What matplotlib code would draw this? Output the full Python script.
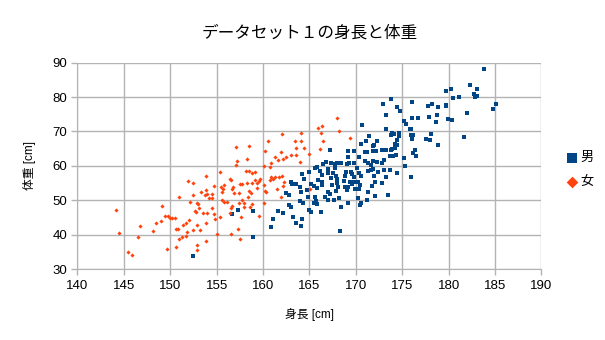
import matplotlib
matplotlib.use('Agg')
import matplotlib.pyplot as plt

plt.rcParams['font.family'] = ['Liberation Sans', 'Noto Sans CJK JP']

# 女 (height cm, weight kg)
female_pts = [
    (144.2, 47.3), (144.5, 40.5), (145.5, 34.9), (145.9, 34.1), (146.5, 39.4), (146.7, 42.5),
    (148.1, 41.1), (148.5, 43.4), (149.0, 44.0), (149.1, 48.3), (149.4, 45.4), (149.8, 45.4),
    (150.0, 45.0), (150.2, 44.8), (150.5, 45.0), (149.7, 35.9), (150.6, 36.5), (150.9, 50.9),
    (150.6, 41.6), (150.8, 41.6), (150.9, 38.8), (151.3, 39.4), (151.4, 42.8), (151.7, 43.4),
    (151.7, 39.7), (151.8, 40.8), (151.9, 55.6), (152.0, 44.4), (152.1, 49.5), (152.5, 55.1),
    (152.5, 51.5), (152.9, 49.3), (153.0, 49.0), (152.7, 46.9), (152.8, 46.6), (152.9, 42.8),
    (152.9, 37.0), (152.9, 35.5), (153.1, 47.7), (153.2, 41.3), (152.4, 41.4), (153.3, 52.5),
    (153.7, 51.6), (154.0, 51.8), (153.8, 57.0), (153.5, 46.4), (153.8, 52.9), (153.8, 43.5),
    (154.0, 46.3), (153.8, 38.1), (154.2, 50.8),
    (155.4, 58.2), (154.7, 54.1), (155.5, 54.0), (155.7, 53.4), (155.8, 54.5), (155.6, 52.3),
    (155.6, 50.1), (155.8, 49.6), (156.1, 49.6), (154.5, 47.7), (154.7, 46.1), (154.8, 44.6),
    (155.4, 45.1), (155.0, 40.2), (154.5, 51.9), (154.5, 50.8),
    (157.1, 65.6), (158.5, 65.9), (158.3, 61.9), (157.2, 61.5), (157.1, 60.2), (156.4, 56.3),
    (156.6, 55.9), (156.7, 53.3), (156.9, 52.1), (156.7, 48.4), (157.4, 52.2), (157.7, 54.7),
    (157.4, 49.2), (157.7, 50.1), (157.9, 49.3), (158.2, 58.4), (158.5, 58.5), (158.8, 57.9),
    (159.1, 58.2), (158.3, 55.1), (158.8, 55.1), (158.5, 52.8), (158.7, 52.1), (158.4, 50.9),
    (159.1, 55.9), (159.3, 55.0), (159.6, 55.5), (159.7, 56.1), (159.4, 53.5), (159.6, 45.5),
    (156.6, 47.8), (156.4, 46.3), (157.3, 41.6), (156.6, 40.3), (157.5, 38.9), (157.6, 45.2),
    (158.0, 48.2), (158.6, 48.2), (158.8, 49.0), (156.8, 54.0), (157.5, 54.8),
    (166.4, 71.5), (165.9, 71.0), (166.2, 69.7), (168.2, 70.1), (164.1, 69.5), (162.0, 69.3),
    (160.5, 67.3), (163.4, 67.3), (164.1, 67.2), (160.2, 64.4), (161.9, 64.1), (163.6, 65.1),
    (165.0, 63.4), (166.1, 64.9), (164.4, 65.3), (161.3, 62.7), (161.6, 61.7), (162.1, 62.1),
    (162.5, 62.7), (163.0, 63.1), (163.6, 63.1), (164.0, 61.1), (160.9, 60.8), (160.7, 59.6),
    (160.1, 60.1), (161.3, 56.9), (161.7, 56.8), (162.0, 57.2), (160.9, 56.7), (161.1, 56.1),
    (160.7, 55.9), (160.1, 54.4), (160.2, 52.7), (160.3, 52.4), (162.3, 55.2), (162.2, 54.1),
    (161.5, 53.3), (161.9, 50.9), (160.1, 49.2),
    (168.0, 74.0), (169.4, 68.2), (166.5, 67.1), (165.1, 53.3),
]

# 男
male_pts = [
    (152.4, 33.8), (156.7, 46.1), (157.3, 47.1), (158.9, 46.8), (158.9, 39.3), (160.9, 42.3),
    (161.1, 44.5), (161.6, 46.9), (162.1, 46.3), (162.5, 52.2), (162.8, 51.5), (162.8, 48.7),
    (163.0, 48.1), (163.0, 55.2), (163.1, 54.7), (163.5, 54.7), (163.2, 45.3), (163.6, 43.5),
    (164.0, 53.9), (164.1, 52.3), (164.2, 57.7), (164.4, 56.2), (164.7, 53.0), (164.8, 50.9),
    (164.9, 58.3), (164.0, 49.8), (164.3, 49.2), (164.9, 47.1), (165.2, 46.6), (165.2, 54.8),
    (165.5, 54.1), (165.8, 53.7), (165.6, 50.9), (165.7, 49.8), (165.5, 49.3), (165.8, 48.9),
    (165.8, 59.8), (165.6, 59.3), (165.9, 56.0), (164.1, 42.5), (164.2, 44.5), (166.2, 46.5),
    (170.7, 71.9), (171.4, 68.7), (171.1, 67.1), (170.6, 66.3), (169.1, 64.2), (169.8, 64.4),
    (170.3, 62.7), (171.0, 64.0), (171.2, 64.1), (171.0, 61.3), (171.3, 60.8), (167.2, 64.5),
    (167.3, 60.8), (167.7, 60.6), (168.0, 60.8), (168.4, 60.9), (169.0, 60.7), (169.3, 60.9),
    (169.8, 60.9), (166.5, 60.6), (166.8, 61.0), (169.1, 62.5), (170.1, 59.3), (169.5, 58.3),
    (169.6, 57.7), (169.8, 56.9), (170.3, 57.9), (170.6, 57.1), (168.9, 58.1), (168.8, 57.2),
    (167.8, 59.5), (167.9, 57.1), (168.0, 56.2), (167.0, 59.2), (167.0, 57.9), (167.3, 56.4),
    (167.5, 57.9), (166.1, 58.4), (166.3, 57.3), (171.3, 58.4), (171.3, 52.4), (170.2, 55.4),
    (170.4, 54.4), (170.3, 53.2), (169.9, 53.2), (169.8, 55.2), (169.6, 54.8), (169.4, 55.2),
    (168.7, 55.5), (168.8, 54.0), (169.1, 54.0), (169.0, 53.0), (168.0, 54.9), (168.1, 54.0),
    (167.9, 52.7), (167.4, 54.6), (167.0, 52.5), (167.2, 51.9), (166.4, 55.4), (166.3, 54.4),
    (170.2, 50.7), (170.5, 49.3), (169.2, 49.3), (168.4, 48.0), (170.4, 48.6), (171.2, 50.1),
    (168.2, 50.7), (167.6, 50.1), (166.7, 51.1), (167.0, 50.0), (168.3, 41.2),
    (182.3, 83.4), (183.0, 82.3), (180.2, 82.3), (179.7, 81.7), (181.1, 80.0), (180.5, 79.6),
    (182.7, 80.9), (182.8, 80.1), (183.0, 80.2), (173.8, 79.4), (172.9, 77.9), (176.0, 78.5),
    (174.4, 77.0), (174.8, 76.0), (178.2, 78.0), (177.8, 77.4), (178.9, 77.1), (179.7, 77.8),
    (179.7, 77.3), (182.0, 75.3), (173.2, 74.8), (176.1, 74.0), (176.7, 74.0), (177.9, 74.3),
    (178.7, 74.7), (178.6, 72.7), (179.9, 73.5), (180.4, 73.3), (175.2, 73.1), (175.4, 72.1),
    (175.8, 70.6), (175.9, 70.6), (173.2, 70.8), (173.9, 69.6), (174.1, 69.3), (173.8, 68.9),
    (174.7, 69.5), (174.7, 68.7), (175.9, 69.0), (176.2, 68.9), (178.1, 69.3), (176.1, 67.7),
    (177.6, 67.7), (178.0, 67.5), (178.9, 66.0), (181.6, 68.3), (174.4, 67.5), (174.2, 66.4),
    (174.4, 66.2), (173.9, 64.9), (173.8, 64.6), (174.2, 65.1), (172.3, 67.3), (172.0, 66.0),
    (171.8, 65.8), (171.9, 64.4), (172.2, 64.4), (172.8, 64.5), (173.2, 64.5), (176.4, 64.5),
    (176.2, 63.7), (176.5, 62.8), (173.7, 62.9), (174.0, 62.8), (174.3, 63.1), (175.2, 62.2),
    (175.3, 59.9), (173.0, 61.7), (172.8, 60.8), (172.3, 61.1), (171.8, 61.4), (171.6, 60.3),
    (171.8, 59.1), (171.6, 58.8), (172.4, 58.2), (173.0, 58.9), (173.7, 58.8), (174.4, 57.9),
    (173.2, 56.7), (172.0, 57.1), (172.8, 55.0), (172.1, 55.3), (175.9, 56.7), (171.7, 54.2),
    (172.1, 51.4), (173.5, 51.5),
    (183.8, 88.2), (185.1, 77.9), (184.8, 76.5),
]

female_h = [p[0] for p in female_pts]
female_w = [p[1] for p in female_pts]
male_h = [p[0] for p in male_pts]
male_w = [p[1] for p in male_pts]

grid_col = '#b3b3b3'

fig = plt.figure(figsize=(6.05, 3.4), dpi=100)
ax = fig.add_axes([0.128, 0.208, 0.767, 0.608])

ax.scatter(male_h, male_w, marker='s', s=5.5, color='#004586', linewidths=0, label='男', zorder=3)
ax.scatter(female_h, female_w, marker='D', s=4.5, color='#ff420e', linewidths=0, label='女', zorder=3)

ax.set_xlim(140, 190)
ax.set_ylim(30, 90)
ax.set_xticks(range(140, 191, 5))
ax.set_yticks(range(30, 91, 10))
ax.grid(True, color=grid_col, linewidth=1)
ax.set_axisbelow(True)
for side in ['top', 'right']:
    ax.spines[side].set_visible(False)
for side in ['left', 'bottom']:
    ax.spines[side].set_color(grid_col)
ax.tick_params(colors=grid_col, labelcolor='black', labelsize=9.5, length=4, width=1)

ax.set_title('データセット１の身長と体重', fontsize=12, pad=18)
ax.set_xlabel('身長 [cm]', fontsize=8.5, labelpad=12)
ax.set_ylabel('体重 [cm]', fontsize=8.5, labelpad=12)

fig.legend(loc='center left', bbox_to_anchor=(0.915, 0.5), frameon=False,
           fontsize=9.5, handletextpad=0.1, labelspacing=0.9, markerscale=2.8,
           handlelength=1.0)

fig.savefig('out.png', dpi=100)
